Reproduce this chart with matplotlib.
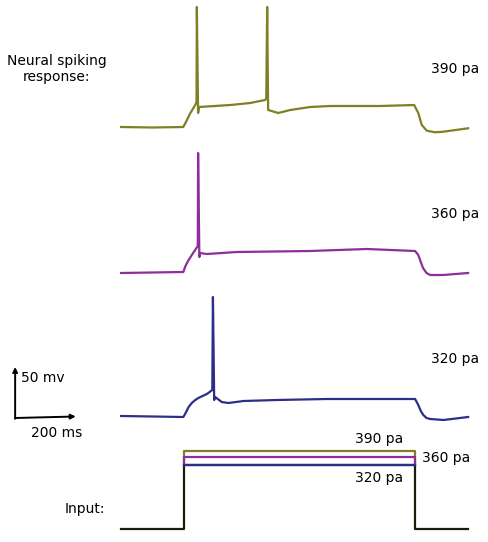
import numpy as np
from matplotlib import pyplot as plt

# Membrane voltage traces (time in ms, voltage in mV)
t_390 = [0, 100, 197, 206, 219, 235, 239, 240, 244, 247, 346, 409, 456, 460, 463, 466,
         498, 536, 599, 663, 821, 929, 942, 953, 969, 995, 1021, 1100]
v_390 = [-70, -70.5, -70, -64.7, -56.3, -48, -45, 50, -56, -50, -48, -46, -43, -42, 50, -53,
         -56, -53, -50, -49, -49, -48, -56, -68, -73.7, -75.3, -74.7, -71.3]

t_360 = [0, 100, 197, 204, 212, 224, 243, 244, 248, 250, 272, 367, 599, 779, 932, 942,
         950, 957, 968, 980, 1021, 1100]
v_360 = [-71, -70.5, -70, -64, -59, -53, -44, 49, -55, -51, -52, -50, -49, -47, -49, -53,
         -60, -66, -71, -73, -73, -71]

t_320 = [0, 100, 197, 201, 206, 214, 224, 235, 245, 258, 272, 289, 291, 295, 298, 319,
         340, 388, 494, 652, 932, 942, 950, 958, 968, 980, 1022, 1100]
v_320 = [-69, -69.5, -70, -68, -65, -60, -56, -53, -51, -49, -47, -43, 50, -53, -50, -55,
         -56, -54, -53, -52, -52, -58, -64, -68, -71, -72, -73, -70]

# Injected current steps (pA)
step_on, step_off, t_end = 200, 930, 1100
currents = [390, 360, 320]
labels = ['390 pa', '360 pa', '320 pa']
colors = ['#7f7f26', '#8e2e9b', '#2c2e88']

traces = [(t_390, v_390), (t_360, v_360), (t_320, v_320)]
offsets = [485, 340, 195]   # vertical placement of each trace
pa_scale = 0.2              # input plot units per pA
input_base = 13

fig = plt.figure(figsize=(4.88, 5.42), dpi=100)
ax = fig.add_axes([0, 0, 1, 1])
ax.set_xlim(-384, 1163)
ax.set_ylim(0, 542)
ax.axis('off')

fs = 10

# Voltage traces
for (t, v), off, c, lab in zip(traces, offsets, colors, labels):
    ax.plot(t, np.array(v) + off, color=c, lw=1.6, solid_joinstyle='round')
    ax.text(983, off - 12, lab, fontsize=fs, ha='left', va='center')

ax.text(-205, 473, 'Neural spiking\nresponse:', fontsize=fs, ha='center',
        va='center', linespacing=1.2)

# Scale bar
sx, sy = -336, 124
ax.annotate('', xy=(sx, sy + 51), xytext=(sx, sy - 0.8),
            arrowprops=dict(arrowstyle='-|>', lw=1.4, color='black',
                            mutation_scale=7, shrinkA=0, shrinkB=0))
ax.annotate('', xy=(sx + 192, sy + 1.5), xytext=(sx - 0.8, sy),
            arrowprops=dict(arrowstyle='-|>', lw=1.4, color='black',
                            mutation_scale=7, shrinkA=0, shrinkB=0))
ax.text(sx + 18, sy + 40, '50 mv', fontsize=fs, ha='left', va='center')
ax.text(sx + 130, sy - 15, '200 ms', fontsize=fs, ha='center', va='center')

# Input current
base_lvl = currents[-1]
ax.plot([0, step_on, step_on, step_off, step_off, t_end],
        np.array([0, 0, base_lvl, base_lvl, 0, 0]) * pa_scale + input_base,
        color='#1a1a0d', lw=1.6)
for I, c in zip(currents, colors):
    ax.plot([step_on, step_on, step_off, step_off],
            np.array([base_lvl, I, I, base_lvl]) * pa_scale + input_base,
            color=c, lw=1.6)

ax.text(819, currents[0] * pa_scale + input_base + 12, labels[0], fontsize=fs,
        ha='center', va='center')
ax.text(954, currents[1] * pa_scale + input_base - 1, labels[1], fontsize=fs,
        ha='left', va='center')
ax.text(819, currents[2] * pa_scale + input_base - 13, labels[2], fontsize=fs,
        ha='center', va='center')
ax.text(-50, 33, 'Input:', fontsize=fs, ha='right', va='center')

fig.savefig('out.png', dpi=100)
